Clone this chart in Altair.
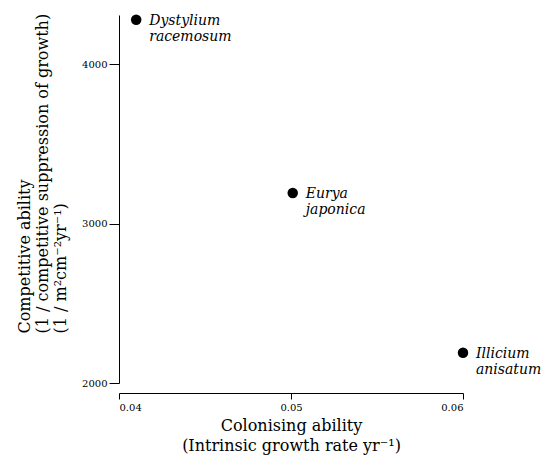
import altair as alt
import pandas as pd

species = ["Dystylium\nracemosum", "Eurya\njaponica", "Illicium\nanisatum"]
colonising = [0.041, 0.0501, 0.060]
competitive = [4280, 3193, 2190]

df = pd.DataFrame({"species": species, "x": colonising, "y": competitive})

FONT = "DejaVu Serif"

x = alt.X("x:Q", scale=alt.Scale(domain=[0.04, 0.06], nice=False, zero=False),
          axis=alt.Axis(values=[0.04, 0.05, 0.06], format=".2f", grid=False,
                        offset=10, tickSize=6, labelFontSize=10, labelFont=FONT,
                        labelPadding=3, labelColor="black", tickColor="black",
                        domainColor="black",
                        title=["Colonising ability", "(Intrinsic growth rate yr\u207b\u00b9)"],
                        titleFont=FONT, titleFontSize=16, titleFontWeight="normal",
                        titleColor="black", titlePadding=5, titleLineHeight=20))
y = alt.Y("y:Q", scale=alt.Scale(domain=[2000, 4310], nice=False, zero=False),
          axis=alt.Axis(values=[2000, 3000, 4000], format="d", grid=False,
                        tickSize=10, labelFontSize=10, labelFont=FONT,
                        labelPadding=2, labelColor="black", tickColor="black",
                        domainColor="black",
                        title=["Competitive ability",
                               "(1 / competitive suppression of growth)",
                               "(1 / m\u00b2cm\u207b\u00b2yr\u207b\u00b9)"],
                        titleFont=FONT, titleFontSize=16, titleFontWeight="normal",
                        titleColor="black", titlePadding=13, titleLineHeight=18,
                        titleAlign="left", titleY=318))

base = alt.Chart(df)
points = base.mark_circle(size=110, color="black", opacity=1).encode(x=x, y=y)
labels = base.mark_text(align="left", baseline="top", dx=13, dy=-6, font=FONT,
                        fontStyle="italic", fontSize=14, lineBreak="\n",
                        lineHeight=16, color="black").encode(
    x="x:Q", y="y:Q", text="species:N")

chart = (points + labels).properties(
    width=344, height=368,
    background="white",
    autosize=alt.AutoSizeParams(type="none"),
    padding={"left": 111, "top": 7, "right": 80, "bottom": 75},
).configure_view(strokeWidth=0, stroke=None)

chart.save("out.html", embed_options={"renderer": "svg", "actions": False})
